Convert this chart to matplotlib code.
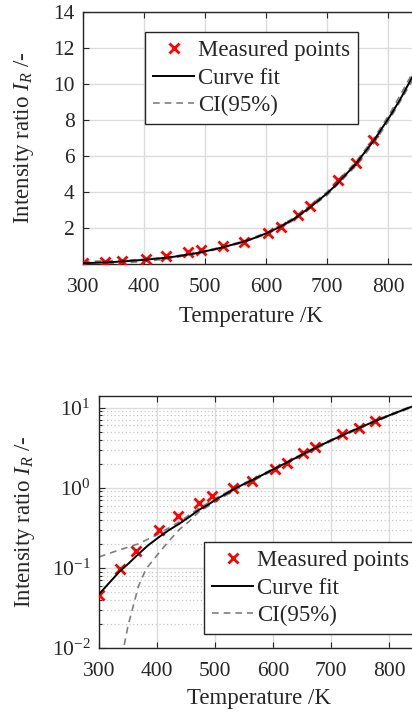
import matplotlib
matplotlib.use("Agg")
import matplotlib.pyplot as plt
from matplotlib.ticker import LogLocator, NullFormatter, FixedLocator

plt.rcParams['font.family'] = ['Liberation Serif', 'DejaVu Serif']
plt.rcParams['mathtext.fontset'] = 'custom'
plt.rcParams['mathtext.rm'] = 'Liberation Serif'
plt.rcParams['mathtext.it'] = 'Liberation Serif:italic'
plt.rcParams['mathtext.bf'] = 'Liberation Serif:bold'

# ---- data ----
temp_meas = [300, 336, 364, 403, 436, 472, 494, 530, 564, 603, 624, 652, 672, 718, 748, 776]
ir_meas = [0.046, 0.098, 0.164, 0.30, 0.448, 0.647, 0.785, 1.0, 1.21, 1.72, 2.05, 2.72, 3.22, 4.65, 5.62, 6.9]

temp_fit = [300, 320, 336, 350, 364, 384, 404, 420, 438, 455, 472, 487, 502, 516, 531, 548,
            565, 584, 603, 624, 646, 672, 700, 716, 746, 776, 803, 820, 840, 850]
ir_fit = [0.047, 0.068, 0.091, 0.112, 0.14, 0.19, 0.245, 0.295, 0.355, 0.43, 0.53, 0.61,
          0.72, 0.82, 0.95, 1.1, 1.26, 1.48, 1.74, 2.08, 2.51, 3.14, 3.92, 4.43, 5.52,
          6.82, 8.2, 9.15, 10.4, 11.05]

temp_ci_up = [300, 329, 368, 401, 438, 472, 502, 531, 565, 603, 646, 700, 746, 776, 803, 840, 850]
ir_ci_up = [0.137, 0.162, 0.20, 0.262, 0.375, 0.555, 0.745, 0.975, 1.29, 1.78, 2.56, 4.0,
            5.62, 6.95, 8.35, 10.6, 11.25]

temp_ci_lo = [340, 343, 350, 368, 381, 401, 420, 438, 455, 472, 502, 531, 565, 603, 646,
              700, 746, 776, 803, 840, 850]
ir_ci_lo = [0.004, 0.0105, 0.019, 0.059, 0.097, 0.147, 0.215, 0.30, 0.38, 0.50, 0.68, 0.91,
            1.22, 1.69, 2.44, 3.82, 5.4, 6.68, 8.05, 10.2, 10.85]

x_ticks = [300, 400, 500, 600, 700, 800]
y_ticks_lin = [2, 4, 6, 8, 10, 12, 14]

TXT = '#262626'
W, H = 412, 713
fig = plt.figure(figsize=(W / 100, H / 100), dpi=100)

def style_axes(ax):
    for s in ax.spines.values():
        s.set_color('#262626')
        s.set_linewidth(1.0)
    ax.tick_params(which='both', direction='in', top=True, right=True,
                   colors='#262626', labelcolor=TXT, labelsize=15.5, width=0.8)
    ax.tick_params(which='major', length=4, pad=6)
    ax.tick_params(axis='x', which='major', pad=10)
    ax.tick_params(which='minor', length=2)
    ax.set_axisbelow(True)

def add_curves(ax):
    ax.plot(temp_ci_up, ir_ci_up, ls=(0, (4, 3)), color='#7f7f7f', lw=1.2, zorder=2)
    ax.plot(temp_ci_lo, ir_ci_lo, ls=(0, (4, 3)), color='#7f7f7f', lw=1.2, zorder=2)
    ax.plot(temp_meas, ir_meas, ls='none', marker='x', color='red', ms=7, mew=2.0,
            label='Measured points', zorder=3)
    ax.plot(temp_fit, ir_fit, color='black', lw=1.4, label='Curve fit', zorder=4)
    ax.plot([], [], ls=(0, (4, 3)), color='#7f7f7f', lw=1.2, label='CI(95%)')

def add_legend(ax, left_px, top_px):
    leg = ax.legend(loc='upper left', bbox_to_anchor=(left_px / W, 1 - top_px / H),
                    bbox_transform=fig.transFigure, borderaxespad=0,
                    fontsize=16.5, frameon=True, fancybox=False, framealpha=1,
                    edgecolor='#262626', handlelength=1.8, handletextpad=0.15,
                    labelspacing=0.28, borderpad=0.35)
    leg.get_frame().set_linewidth(1.0)
    for t in leg.get_texts():
        t.set_color(TXT)

# ---- top: linear ----
ax1 = fig.add_axes([83 / W, 1 - 264 / H, (418.5 - 83) / W, 252 / H])
add_curves(ax1)
ax1.set_xlim(300, 850)
ax1.set_ylim(0, 14)
ax1.set_xticks(x_ticks)
ax1.set_yticks(y_ticks_lin)
ax1.grid(True, which='major', color='#dcdcdc', lw=1.0)
style_axes(ax1)
ax1.set_xlabel('Temperature /K', fontsize=16.5, color=TXT)
ax1.set_ylabel('Intensity ratio $I_R$ /-', fontsize=16.5, color=TXT)
ax1.yaxis.set_label_coords((36 - 83) / (418.5 - 83), 0.5)
ax1.xaxis.set_label_coords(0.5, -0.165)
ax1.xaxis.label.set_va('top')
add_legend(ax1, 145, 32)

# ---- bottom: log ----
ax2 = fig.add_axes([99 / W, 1 - 648 / H, (418.4 - 99) / W, 252 / H])
add_curves(ax2)
ax2.set_yscale('log')
ax2.set_xlim(300, 850)
ax2.set_ylim(0.01, 14)
ax2.set_xticks(x_ticks)
ax2.yaxis.set_major_locator(FixedLocator([0.01, 0.1, 1, 10]))
ax2.set_yticklabels(['$10^{-2}$', '$10^{-1}$', '$10^{0}$', '$10^{1}$'])
ax2.yaxis.set_minor_locator(LogLocator(base=10, subs=range(2, 10), numticks=20))
ax2.yaxis.set_minor_formatter(NullFormatter())
ax2.grid(True, which='major', color='#dcdcdc', lw=1.0)
ax2.grid(True, which='minor', axis='y', color='#c8c8c8', lw=0.9, ls=(0, (1, 2)))
style_axes(ax2)
ax2.set_xlabel('Temperature /K', fontsize=16.5, color=TXT)
ax2.set_ylabel('Intensity ratio $I_R$ /-', fontsize=16.5, color=TXT)
ax2.yaxis.set_label_coords((37 - 99) / (418.4 - 99), 0.5)
ax2.xaxis.set_label_coords(0.5, -0.16)
ax2.xaxis.label.set_va('top')
add_legend(ax2, 204, 542)

fig.savefig('out.png', dpi=100)
